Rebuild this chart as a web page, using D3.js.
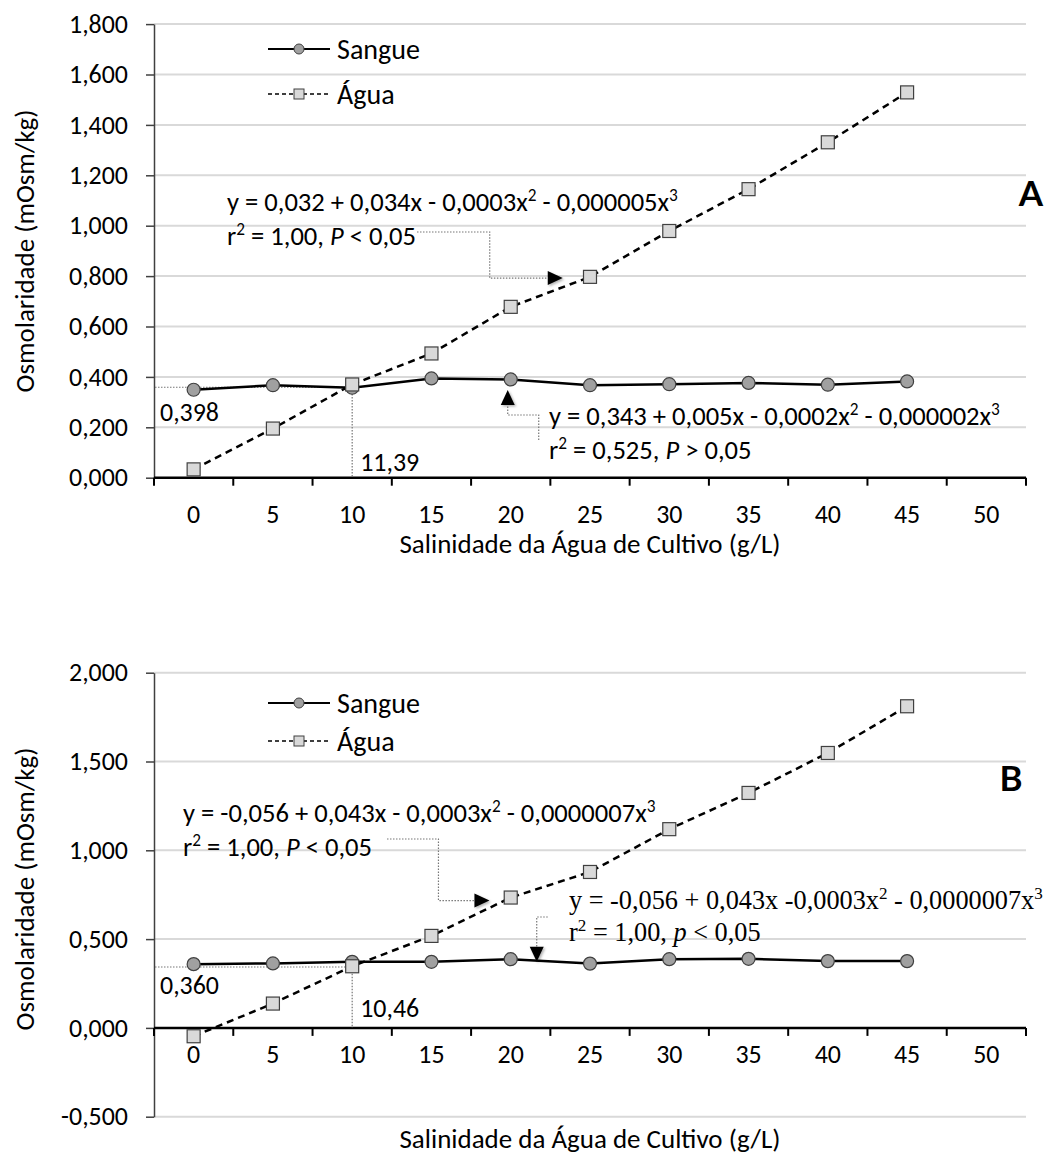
<!DOCTYPE html>
<html>
<head>
<meta charset="utf-8">
<script src="https://cdn.jsdelivr.net/npm/d3@7"></script>
<style>
  body { margin: 0; background: #fff; }
  svg { display: block; }
</style>
</head>
<body>
<svg id="chart" width="1057" height="1155"></svg>
<script>
// salinity categories (g/L)
const salinity = ['0', '5', '10', '15', '20', '25', '30', '35', '40', '45', '50'];

// panel A
const bloodA = [0.349, 0.367, 0.357, 0.394, 0.390, 0.367, 0.371, 0.376, 0.369, 0.382];
const waterA = [0.033, 0.195, 0.370, 0.493, 0.678, 0.797, 0.979, 1.145, 1.331, 1.529];
const ticksA = [0, 0.2, 0.4, 0.6, 0.8, 1.0, 1.2, 1.4, 1.6, 1.8];

// panel B
const bloodB = [0.359, 0.363, 0.372, 0.372, 0.387, 0.362, 0.387, 0.389, 0.376, 0.376];
const waterB = [-0.047, 0.137, 0.347, 0.518, 0.734, 0.878, 1.119, 1.323, 1.548, 1.811];
const ticksB = [-0.5, 0, 0.5, 1.0, 1.5, 2.0];

const FONT = 'Carlito, Calibri, Lato, sans-serif';
const SERIF = '"Liberation Serif", "Times New Roman", serif';
const fmt = d3.formatLocale({decimal: ',', thousands: '.', grouping: [3], currency: ['', ''], minus: '-'}).format('.3f');

const svg = d3.select('#chart').style('font-family', FONT);
const left = 154, right = 1026;
const x = d3.scaleBand().domain(salinity).range([left, right]);
const bw = x.bandwidth();
const cx = s => x(s) + bw / 2;

const filter = svg.append('defs').append('filter').attr('id', 'shadow')
    .attr('x', '-50%').attr('y', '-50%').attr('width', '200%').attr('height', '200%');
filter.append('feDropShadow')
    .attr('dx', 1.5).attr('dy', 1.5).attr('stdDeviation', 1.2)
    .attr('flood-opacity', 0.3);

// text with superscripts (^) and italics (_); py is the vertical centre
function richText(g, px, py, parts, size, family) {
    const t = g.append('text').attr('x', px).attr('y', py + size * 0.35)
        .attr('font-size', size).attr('font-family', family || FONT).attr('fill', '#000');
    let shifted = false;
    parts.forEach(p => {
        const s = t.append('tspan');
        if (p[0] === '^') {
            s.text(p.slice(1)).attr('font-size', size * 0.65).attr('dy', -size * 0.38);
            shifted = true;
        } else {
            if (shifted) { s.attr('dy', size * 0.38); shifted = false; }
            if (p[0] === '_') s.text(p.slice(1)).attr('font-style', 'italic');
            else s.text(p);
        }
    });
    return t;
}

// font size that makes the given text as wide as in the original figure
function fitSize(parts, width, family) {
    const t = richText(svg, 0, -500, parts, 100, family);
    const w = t.node().getBBox().width;
    t.remove();
    return 100 * width / w;
}

const eqA1 = ['y = 0,032 + 0,034x - 0,0003x', '^2', ' - 0,000005x', '^3'];
const eqB2 = ['y = -0,056 + 0,043x -0,0003x', '^2', ' - 0,0000007x', '^3'];
const TICK = fitSize(['1,800'], 59);
const LEG = fitSize(['Sangue'], 83);
const TITLE = fitSize(['Osmolaridade (mOsm/kg)'], 283);
const EQ = fitSize(eqA1, 451);
const EQS = fitSize(eqB2, 474, SERIF);

function arrowHead(g, tx, ty, dir) {
    const L = 15, H = 7;
    const pts = {
        right: [[tx, ty], [tx - L, ty - H], [tx - L, ty + H]],
        up: [[tx, ty], [tx - H, ty + L], [tx + H, ty + L]],
        down: [[tx, ty], [tx - H, ty - L], [tx + H, ty - L]]
    }[dir];
    g.append('polygon').attr('points', pts.map(p => p.join(',')).join(' '))
        .attr('fill', '#000').attr('filter', 'url(#shadow)');
}

function connector(g, pts) {
    g.append('path').attr('d', d3.line()(pts))
        .attr('fill', 'none').attr('stroke', '#777').attr('stroke-width', 1.2)
        .attr('stroke-dasharray', '1.5,1.5');
}

function panel(o) {
    const y = d3.scaleLinear().domain(o.domain).range(o.range);
    const g = svg.append('g');
    const y0 = y(0);

    g.append('g').selectAll('line').data(o.ticks.filter(t => t !== 0)).join('line')
        .attr('x1', left).attr('x2', right)
        .attr('y1', d => y(d)).attr('y2', d => y(d))
        .attr('stroke', '#d9d9d9').attr('stroke-width', 2);

    const ya = g.append('g').attr('transform', `translate(${left},0)`)
        .call(d3.axisLeft(y).tickValues(o.ticks).tickSize(8).tickSizeOuter(0)
            .tickPadding(18).tickFormat(fmt));
    ya.select('.domain').attr('stroke', '#404040').attr('stroke-width', 1.5);
    ya.selectAll('.tick line').attr('stroke', '#404040').attr('stroke-width', 1.5);
    ya.selectAll('text').attr('font-size', TICK).attr('font-family', FONT).attr('fill', '#000');

    // x axis through zero
    const xa = g.append('g').attr('transform', `translate(0,${y0})`)
        .call(d3.axisBottom(x).tickSize(0).tickPadding(o.labelPad));
    xa.select('.domain').remove();
    xa.selectAll('text').attr('font-size', TICK).attr('font-family', FONT).attr('fill', '#000');
    g.append('line').attr('x1', left).attr('x2', right).attr('y1', y0).attr('y2', y0)
        .attr('stroke', '#000').attr('stroke-width', 2.5);
    g.append('g').selectAll('line').data(salinity.map(s => x(s)).concat([right])).join('line')
        .attr('x1', d => d).attr('x2', d => d).attr('y1', y0).attr('y2', y0 + 8)
        .attr('stroke', '#000').attr('stroke-width', 2);

    // titles
    g.append('text').attr('x', (left + right) / 2).attr('y', o.xTitleY + TITLE * 0.35)
        .attr('text-anchor', 'middle').attr('font-size', TITLE)
        .text('Salinidade da Água de Cultivo (g/L)');
    g.append('text').attr('transform', `translate(34,${o.yTitleY}) rotate(-90)`)
        .attr('text-anchor', 'middle').attr('font-size', TITLE)
        .text('Osmolaridade (mOsm/kg)');

    // intersection guides
    const ix = cx(o.cross[0]), iy = y(o.cross[1]);
    connector(g, [[left + 1, iy], [ix, iy], [ix, y0]]);
    richText(g, left + 6, o.crossYAt, [o.crossY], TICK);
    richText(g, ix + 8, o.crossXAt, [o.crossX], TICK);

    // series
    const line = d3.line().x((d, i) => cx(salinity[i])).y(d => y(d));
    g.append('path').attr('d', line(o.blood)).attr('fill', 'none')
        .attr('stroke', '#000').attr('stroke-width', 2.5);
    g.append('path').attr('d', line(o.water)).attr('fill', 'none')
        .attr('stroke', '#000').attr('stroke-width', 2.5).attr('stroke-dasharray', '7,5');
    g.append('g').selectAll('circle').data(o.blood).join('circle')
        .attr('cx', (d, i) => cx(salinity[i])).attr('cy', d => y(d)).attr('r', 6.5)
        .attr('fill', '#a0a0a0').attr('stroke', '#404040').attr('stroke-width', 1.2);
    g.append('g').selectAll('rect').data(o.water).join('rect')
        .attr('x', (d, i) => cx(salinity[i]) - 6.5).attr('y', d => y(d) - 6.5)
        .attr('width', 13).attr('height', 13)
        .attr('fill', '#d9d9d9').attr('stroke', '#404040').attr('stroke-width', 1.2);

    // legend
    const lg = g.append('g');
    lg.append('line').attr('x1', 268).attr('x2', 330).attr('y1', o.legendY).attr('y2', o.legendY)
        .attr('stroke', '#000').attr('stroke-width', 2);
    lg.append('circle').attr('cx', 299).attr('cy', o.legendY).attr('r', 5)
        .attr('fill', '#a0a0a0').attr('stroke', '#404040');
    richText(lg, 337, o.legendY, ['Sangue'], LEG);
    const ly2 = o.legendY + o.legendGap;
    lg.append('line').attr('x1', 268).attr('x2', 330).attr('y1', ly2).attr('y2', ly2)
        .attr('stroke', '#000').attr('stroke-width', 1.5).attr('stroke-dasharray', '4,3');
    lg.append('rect').attr('x', 294).attr('y', ly2 - 5).attr('width', 10).attr('height', 10)
        .attr('fill', '#d9d9d9').attr('stroke', '#404040');
    richText(lg, 337, ly2, ['Água'], LEG);

    // panel letter
    g.append('text').attr('x', o.letterX).attr('y', o.letterY).attr('text-anchor', 'middle')
        .attr('font-size', 35).attr('font-weight', 'bold').attr('font-family', 'Lato, sans-serif')
        .text(o.letter);

    o.notes(g, y);
}

panel({
    domain: [0, 1.8], range: [477.7, 24.1], ticks: ticksA,
    blood: bloodA, water: waterA, labelPad: 27, xTitleY: 544, yTitleY: 251,
    cross: ['10', 0.359], crossY: '0,398', crossX: '11,39', crossYAt: 412, crossXAt: 462,
    legendY: 49, legendGap: 45, letter: 'A', letterX: 1031, letterY: 206,
    notes: (g, y) => {
        richText(g, 227, 202, eqA1, EQ);
        richText(g, 227, 236, ['r', '^2', ' = 1,00, ', '_P', ' < 0,05'], EQ);
        const tx = cx('20') + 52, ty = y(0.792);
        connector(g, [[417, 232], [tx - 73, 232], [tx - 73, ty], [tx - 15, ty]]);
        arrowHead(g, tx, ty, 'right');
        richText(g, 549, 416, ['y = 0,343 + 0,005x - 0,0002x', '^2', ' - 0,000002x', '^3'], EQ);
        richText(g, 549, 450, ['r', '^2', ' = 0,525, ', '_P', ' > 0,05'], EQ);
        const ax = cx('20') - 3, ay = y(0.348);
        connector(g, [[ax + 31, 440], [ax + 31, 415], [ax, 415], [ax, ay + 15]]);
        arrowHead(g, ax, ay, 'up');
    }
});

panel({
    domain: [-0.5, 2.0], range: [1116.7, 672.7], ticks: ticksB,
    blood: bloodB, water: waterB, labelPad: 17, xTitleY: 1139, yTitleY: 889,
    cross: ['10', 0.343], crossY: '0,360', crossX: '10,46', crossYAt: 985, crossXAt: 1008,
    legendY: 703, legendGap: 38, letter: 'B', letterX: 1011, letterY: 791,
    notes: (g, y) => {
        richText(g, 183, 813, ['y = -0,056 + 0,043x - 0,0003x', '^2', ' - 0,0000007x', '^3'], EQ);
        richText(g, 183, 847, ['r', '^2', ' = 1,00, ', '_P', ' < 0,05'], EQ);
        const tx = cx('15') + 58, ty = y(0.717);
        connector(g, [[387, 839], [tx - 51, 839], [tx - 51, ty], [tx - 13, ty]]);
        arrowHead(g, tx, ty, 'right');
        richText(g, 569, 900, eqB2, EQS, SERIF);
        richText(g, 569, 932, ['r', '^2', ' = 1,00, ', '_p', ' < 0,05'], EQS, SERIF);
        const ax = cx('20') + 26, ay = y(0.373);
        connector(g, [[ax + 11, 917], [ax, 917], [ax, ay - 13]]);
        arrowHead(g, ax, ay, 'down');
    }
});
</script>
</body>
</html>
